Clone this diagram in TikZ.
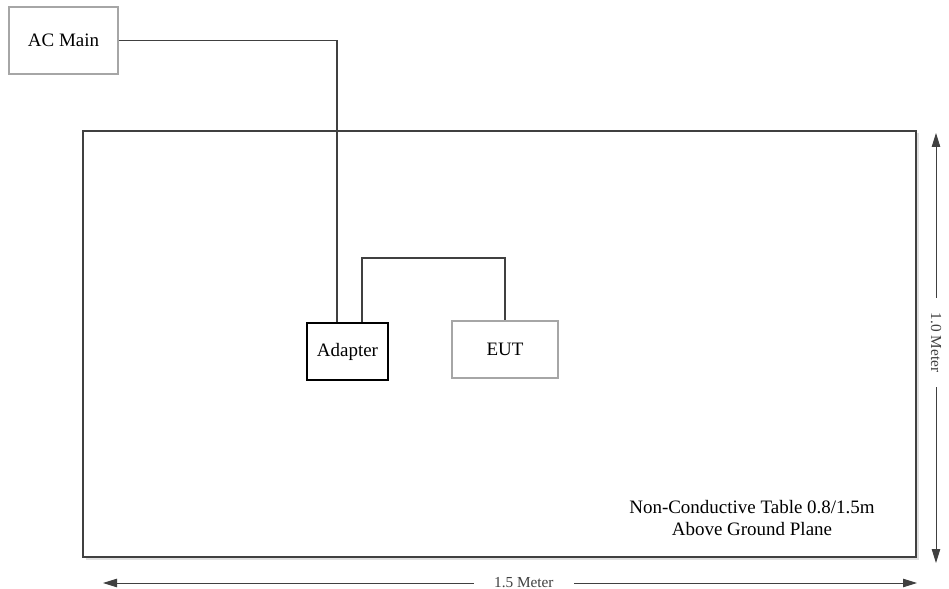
\documentclass[tikz,border=0pt]{standalone}
\usepackage{fontspec}
\setmainfont{Liberation Serif}
\usepackage{tikz}
\usetikzlibrary{arrows.meta,shadows}

\begin{document}
\begin{tikzpicture}[
        unitbox/.style={draw=black!35, line width=0.6pt, inner sep=0pt,
            font=\fontsize{10.8}{13}\selectfont},
        cable/.style={draw=black!75, line width=0.8pt},
        measure/.style={black!75, line width=0.5pt,
            {Triangle[length=0.28cm,width=0.17cm]}-{Triangle[length=0.28cm,width=0.17cm]}},
        measurelabel/.style={fill=white, inner ysep=1pt, font=\fontsize{8.7}{10}\selectfont}
    ]
        \useasboundingbox (0,0) rectangle (18.98,-11.78);

        % table
        \draw[black!75, line width=1.6pt, fill=white,
            drop shadow={shadow xshift=0.05cm, shadow yshift=-0.05cm, fill=black!20, opacity=0.6}]
            (1.66,-2.62) rectangle (18.32,-11.14);
        \node[align=center, font=\fontsize{10.8}{12.6}\selectfont] (tablenote) at (15.04,-10.36)
            {Non-Conductive Table 0.8/1.5m\\Above Ground Plane};

        % boxes
        \node[unitbox, minimum width=2.18cm, minimum height=1.34cm] (acmain) at (1.27,-0.81) {AC Main};
        \node[unitbox, draw=black, line width=1pt, minimum width=1.62cm, minimum height=1.14cm] (adapter) at (6.95,-7.03) {Adapter};
        \node[unitbox, minimum width=2.12cm, minimum height=1.14cm] (eut) at (10.10,-6.99) {EUT};

        % cables
        \draw[cable] (acmain.east) -| ([xshift=-0.21cm]adapter.north);
        \draw[cable] ([xshift=0.29cm]adapter.north) -- ++(0,1.28) -| (eut.north);

        % dimensions
        \coordinate (wleft) at (2.06,-11.66);
        \coordinate (wright) at (18.34,-11.66);
        \draw[measure] (wleft) -- (wright)
            node[measurelabel, inner xsep=0.4cm, pos=0.517] (widthlabel) {1.5 Meter};
        \coordinate (dtop) at (18.72,-2.66);
        \coordinate (dbottom) at (18.72,-11.26);
        \draw[measure] (dtop) -- (dbottom)
            node[measurelabel, inner xsep=0.3cm, rotate=-90, pos=0.487] (depthlabel) {1.0 Meter};
    \end{tikzpicture}
\end{document}
